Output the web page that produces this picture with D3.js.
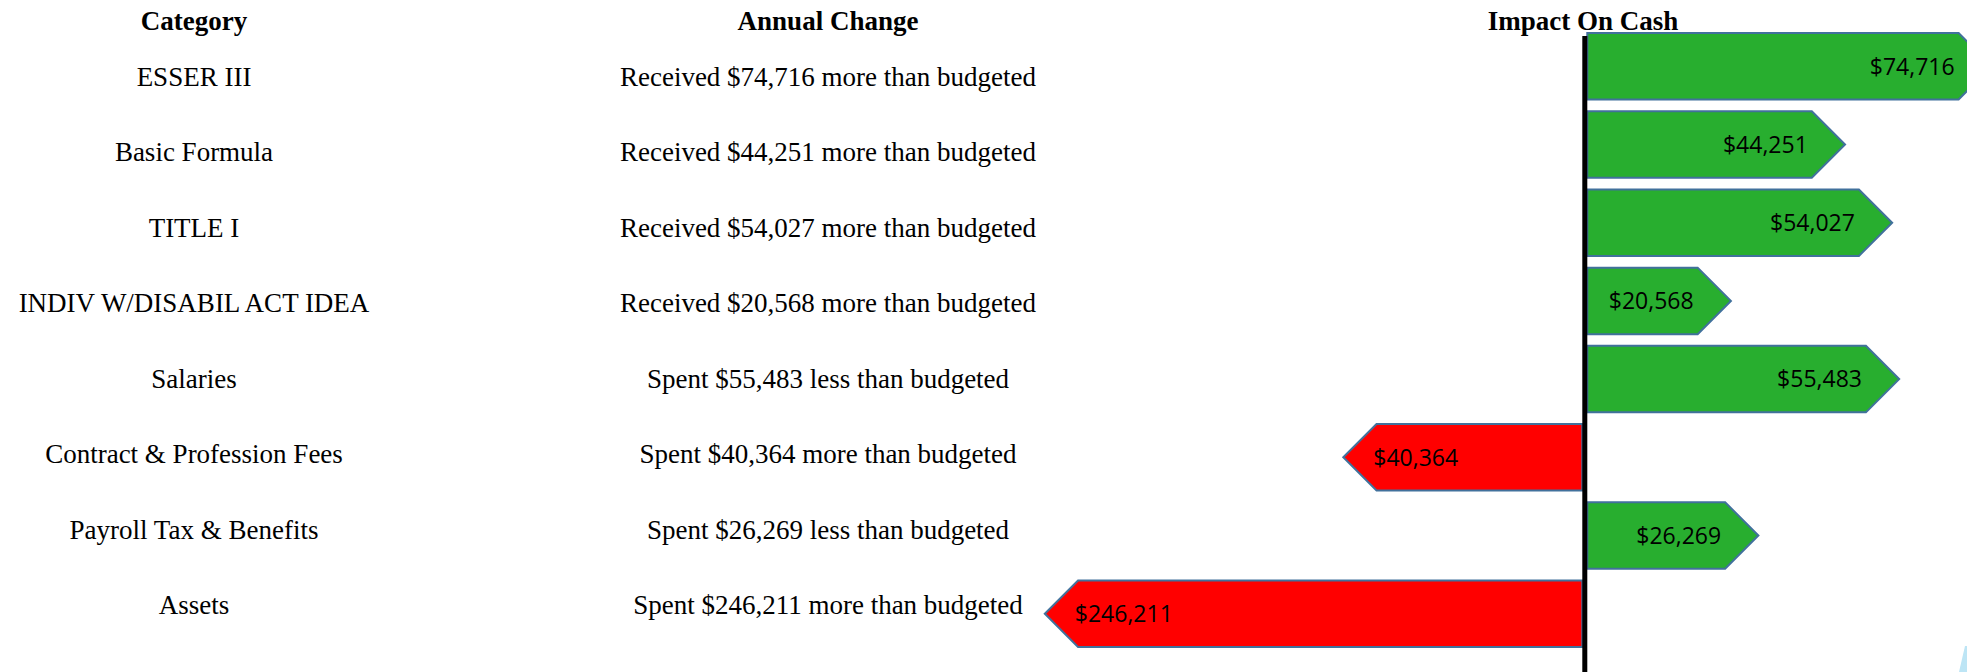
<!DOCTYPE html>
<html>
<head>
<meta charset="utf-8">
<script src="https://cdn.jsdelivr.net/npm/d3@7"></script>
<style>
  html, body { margin: 0; padding: 0; background: #ffffff; }
  svg { display: block; }
</style>
</head>
<body>
<svg id="chart" width="1967" height="672"></svg>
<script>
// ---- data ----
const headers = ["Category", "Annual Change", "Impact On Cash"];
const categories = [
  "ESSER III",
  "Basic Formula",
  "TITLE I",
  "INDIV W/DISABIL ACT IDEA",
  "Salaries",
  "Contract & Profession Fees",
  "Payroll Tax & Benefits",
  "Assets"
];
const annualChange = [
  "Received $74,716 more than budgeted",
  "Received $44,251 more than budgeted",
  "Received $54,027 more than budgeted",
  "Received $20,568 more than budgeted",
  "Spent $55,483 less than budgeted",
  "Spent $40,364 more than budgeted",
  "Spent $26,269 less than budgeted",
  "Spent $246,211 more than budgeted"
];
const impact = [74716, 44251, 54027, 20568, 55483, -40364, 26269, -246211];

// ---- layout ----
const W = 1967, H = 672;
const svg = d3.select("#chart");
const serif = "'Liberation Serif', 'Times New Roman', Times, serif";
const sans = "'Open Sans', 'Liberation Sans', sans-serif";

const colCategory = 194, colChange = 828, axisX = 1584.8, axisW = 5;

// text rows
const rowY = d3.scalePoint().domain(categories).range([76.7, 605.3]);
// bar rows
const barY = d3.scaleBand().domain(categories).range([33, 647]).paddingInner(0.15).paddingOuter(0);
// bar length (the reference graphic truncates the largest bar)
const len = d3.scaleLinear().domain([0, 102300]).range([47, 540]).clamp(true);
const fmt = d3.format("$,");

// headers
svg.append("g").selectAll("text")
  .data(headers)
  .join("text")
  .attr("x", (d, i) => [colCategory, colChange, 1583][i])
  .attr("y", 29.5)
  .attr("text-anchor", "middle")
  .attr("font-family", serif)
  .attr("font-weight", "bold")
  .attr("font-size", 27)
  .attr("fill", "#000")
  .text(d => d);

// category column
svg.append("g").selectAll("text")
  .data(categories)
  .join("text")
  .attr("x", colCategory)
  .attr("y", d => rowY(d))
  .attr("dy", "0.33em")
  .attr("text-anchor", "middle")
  .attr("font-family", serif)
  .attr("font-size", 27)
  .attr("fill", "#000")
  .text(d => d);

// annual change column
svg.append("g").selectAll("text")
  .data(annualChange)
  .join("text")
  .attr("x", colChange)
  .attr("y", (d, i) => rowY(categories[i]))
  .attr("dy", "0.33em")
  .attr("text-anchor", "middle")
  .attr("font-family", serif)
  .attr("font-size", 27)
  .attr("fill", "#000")
  .text(d => d);

// arrow bars
const bars = categories.map((c, i) => {
  const v = impact[i];
  const dir = v >= 0 ? 1 : -1;
  const top = barY(c), h = barY.bandwidth(), bot = top + h, mid = top + h / 2;
  const x0 = axisX + dir * axisW / 2;
  const tip = axisX + dir * len(Math.abs(v));
  const rectEnd = tip - dir * h / 2;
  return { c, v, dir, top, bot, mid, x0, tip, rectEnd, h };
});

svg.append("g").selectAll("path")
  .data(bars)
  .join("path")
  .attr("d", b => {
    const p = d3.path();
    p.moveTo(b.x0, b.top);
    p.lineTo(b.rectEnd, b.top);
    p.lineTo(b.tip, b.mid);
    p.lineTo(b.rectEnd, b.bot);
    p.lineTo(b.x0, b.bot);
    p.closePath();
    return p.toString();
  })
  .attr("fill", b => b.dir > 0 ? "#28AE2F" : "#FF0000")
  .attr("stroke", "#41719C")
  .attr("stroke-width", 2)
  .attr("stroke-linejoin", "miter");

// value labels
svg.append("g").selectAll("text")
  .data(bars)
  .join("text")
  .attr("x", b => b.dir > 0 ? b.rectEnd - 4 : b.tip + 30)
  .attr("y", b => b.mid)
  .attr("dy", "0.36em")
  .attr("text-anchor", b => b.dir > 0 ? "end" : "start")
  .attr("font-family", sans)
  .attr("font-size", 23)
  .attr("fill", "#000")
  .text(b => fmt(Math.abs(b.v)));

// zero axis line
svg.append("line")
  .attr("x1", axisX).attr("x2", axisX)
  .attr("y1", 36).attr("y2", H)
  .attr("stroke", "#000")
  .attr("stroke-width", axisW);

// decorative sliver bottom-right
svg.append("path")
  .attr("d", "M1965,646L1967,646L1967,672L1959,672Z")
  .attr("fill", "#BDE5F5");
</script>
</body>
</html>
